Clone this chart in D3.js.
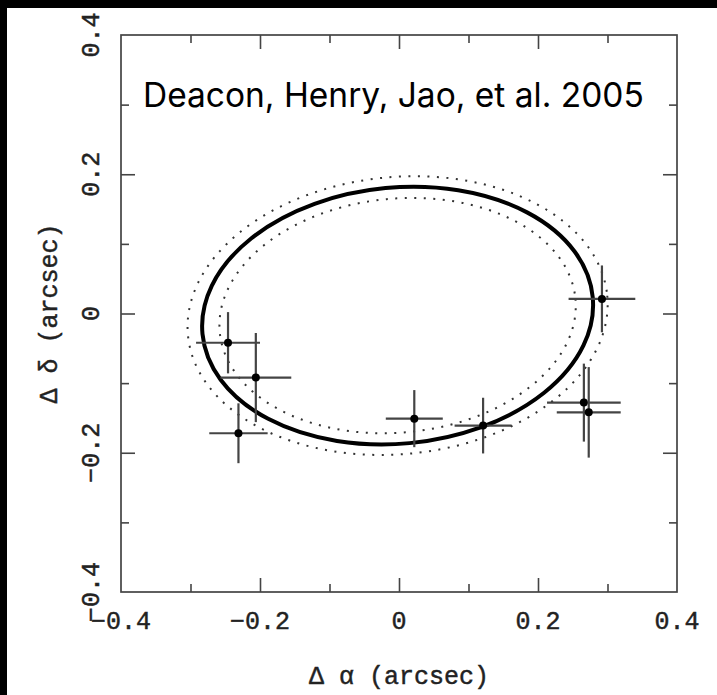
<!DOCTYPE html>
<html>
<head>
<meta charset="utf-8">
<script src="https://cdn.jsdelivr.net/npm/d3@7"></script>
<style>
  html, body { margin: 0; padding: 0; background: #000; }
  svg { display: block; }
  .tick-label, .axis-title { font-family: 'Liberation Mono', 'DejaVu Sans Mono', monospace; font-size: 25px; fill: #222; stroke: #222; stroke-width: 0.45; }
  .title { font-family: Inter, 'Noto Sans', sans-serif; font-size: 33.5px; fill: #000; }
</style>
</head>
<body>
<svg id="chart"></svg>
<script>
// astrometric residual points (arcsec)
const dAlpha = [-0.246, -0.206, -0.231, 0.022, 0.121, 0.266, 0.273, 0.292]
const dDelta = [-0.042, -0.092, -0.172, -0.151, -0.161, -0.128, -0.142, 0.021]
const errAlpha = [0.046, 0.051, 0.042, 0.041, 0.041, 0.053, 0.046, 0.048]
const errDelta = [0.044, 0.064, 0.043, 0.041, 0.040, 0.056, 0.065, 0.048]

// fitted orbit ellipse and its error band (arcsec, degrees)
const orbitCenter = [-0.002, -0.003]
const orbitAxes = [0.282, 0.184]
const orbitTilt = 5.4
const bandAxes = [[0.257, 0.168], [0.303, 0.199]]

const majorTicks = [-0.2, 0, 0.2]
const minorTicks = [-0.3, -0.1, 0.1, 0.3]
const tickLabels = [-0.4, -0.2, 0, 0.2, 0.4]

const TITLE = 'Deacon, Henry, Jao, et al. 2005'
const X_TITLE = 'Δ α (arcsec)'
const Y_TITLE = 'Δ δ (arcsec)'

const WIDTH = 717
const HEIGHT = 695
const LEFT = 121, RIGHT = 677, TOP = 35, BOTTOM = 592
const INK = '#444'

const svg = d3.select('#chart')
  .attr('width', WIDTH)
  .attr('height', HEIGHT)

// black scan border, white page
svg.append('rect').attr('width', WIDTH).attr('height', HEIGHT).attr('fill', '#000')
svg.append('rect').attr('x', 7).attr('y', 8)
  .attr('width', WIDTH - 7).attr('height', HEIGHT - 8).attr('fill', '#fff')

const x = d3.scaleLinear().domain([-0.4, 0.4]).range([LEFT, RIGHT])
const y = d3.scaleLinear().domain([-0.4, 0.4]).range([BOTTOM, TOP])

const fmt = v => v === 0 ? '0' : (v < 0 ? '\u2212' : '') + Math.abs(v).toFixed(1)

// inward ticks on all four sides, one group per tick set
function ticks(axisFn, scale, tx, ty) {
  [[majorTicks, 14], [minorTicks, 8]].forEach(([values, size]) => {
    const g = svg.append('g')
      .attr('transform', `translate(${tx},${ty})`)
      .call(axisFn(scale).tickValues(values).tickSize(size).tickFormat(''))
    g.select('.domain').remove()
    g.selectAll('line').attr('stroke', INK).attr('stroke-width', 1.6)
  })
}
ticks(d3.axisTop, x, 0, BOTTOM)
ticks(d3.axisBottom, x, 0, TOP)
ticks(d3.axisRight, y, LEFT, 0)
ticks(d3.axisLeft, y, RIGHT, 0)

svg.append('rect')
  .attr('x', LEFT).attr('y', TOP)
  .attr('width', RIGHT - LEFT).attr('height', BOTTOM - TOP)
  .attr('fill', 'none')
  .attr('stroke', INK)
  .attr('stroke-width', 1.7)

// tick labels
svg.selectAll('.x-label')
  .data(tickLabels)
  .enter().append('text')
  .attr('class', 'tick-label')
  .attr('x', d => x(d))
  .attr('y', 629)
  .attr('text-anchor', 'middle')
  .text(fmt)

svg.selectAll('.y-label')
  .data(tickLabels)
  .enter().append('text')
  .attr('class', 'tick-label')
  .attr('transform', d => `translate(99,${y(d)}) rotate(-90)`)
  .attr('text-anchor', 'middle')
  .text(fmt)

// axis titles
svg.append('text')
  .attr('class', 'axis-title')
  .attr('x', (LEFT + RIGHT) / 2)
  .attr('y', 684)
  .attr('text-anchor', 'middle')
  .text(X_TITLE)

svg.append('text')
  .attr('class', 'axis-title')
  .attr('transform', `translate(57,${(TOP + BOTTOM) / 2}) rotate(-90)`)
  .attr('text-anchor', 'middle')
  .text(Y_TITLE)

// orbit ellipses
const cx = x(orbitCenter[0]), cy = y(orbitCenter[1])
const rx = a => x(a) - x(0)
const ry = b => y(0) - y(b)

svg.selectAll('.band')
  .data(bandAxes)
  .enter().append('ellipse')
  .attr('class', 'band')
  .attr('cx', cx).attr('cy', cy)
  .attr('rx', d => rx(d[0])).attr('ry', d => ry(d[1]))
  .attr('transform', `rotate(${-orbitTilt},${cx},${cy})`)
  .attr('fill', 'none')
  .attr('stroke', '#333')
  .attr('stroke-width', 2)
  .attr('stroke-dasharray', '2 7.5')

svg.append('ellipse')
  .attr('cx', cx).attr('cy', cy)
  .attr('rx', rx(orbitAxes[0])).attr('ry', ry(orbitAxes[1]))
  .attr('transform', `rotate(${-orbitTilt},${cx},${cy})`)
  .attr('fill', 'none')
  .attr('stroke', '#000')
  .attr('stroke-width', 4)

// data points with error bars
const points = dAlpha.map((a, i) => ({ a, d: dDelta[i], ea: errAlpha[i], ed: errDelta[i] }))

const pts = svg.selectAll('.pt')
  .data(points)
  .enter().append('g')
  .attr('class', 'pt')

pts.append('line')
  .attr('x1', p => x(p.a - p.ea)).attr('x2', p => x(p.a + p.ea))
  .attr('y1', p => y(p.d)).attr('y2', p => y(p.d))
  .attr('stroke', INK).attr('stroke-width', 2.2)

pts.append('line')
  .attr('x1', p => x(p.a)).attr('x2', p => x(p.a))
  .attr('y1', p => y(p.d - p.ed)).attr('y2', p => y(p.d + p.ed))
  .attr('stroke', INK).attr('stroke-width', 2.2)

pts.append('circle')
  .attr('cx', p => x(p.a)).attr('cy', p => y(p.d))
  .attr('r', 4)
  .attr('fill', '#000')

// credit line
svg.append('text')
  .attr('class', 'title')
  .attr('x', 143)
  .attr('y', 107)
  .text(TITLE)
</script>
</body>
</html>
